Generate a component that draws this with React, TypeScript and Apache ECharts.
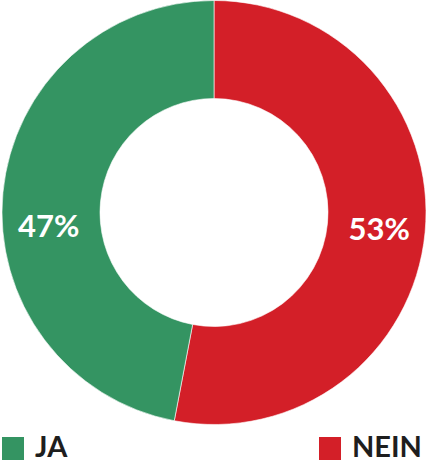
import React, { useEffect, useRef } from "react";
import * as echarts from "echarts";

const categories = ["NEIN", "JA"];
const values = [53, 47];
const colors = ["#d31f28", "#349462"];

export default function App() {
  const ref = useRef<HTMLDivElement>(null);
  useEffect(() => {
    document.body.style.margin = "0";
    const chart = echarts.init(ref.current!, null, { renderer: "svg" });
    const font = "Lato, 'Open Sans', sans-serif";
    const legendItems = [
      { idx: 1, x: 2 },
      { idx: 0, x: 319 },
    ];
    chart.setOption({
      animation: false,
      color: colors,
      graphic: legendItems.flatMap(({ idx, x }) => [
        { type: "rect", shape: { x, y: 437, width: 22, height: 23 }, style: { fill: colors[idx] } },
        {
          type: "text",
          x: x + 33,
          y: 445,
          style: {
            text: categories[idx],
            fill: "#1e1e1e",
            font: `bold 29px ${font}`,
            verticalAlign: "middle",
            align: "left",
          },
        },
      ]),
      series: [
        {
          type: "pie",
          center: [214, 212.5],
          radius: [114, 212],
          startAngle: 90,
          clockwise: true,
          avoidLabelOverlap: false,
          itemStyle: { borderColor: "#fff", borderWidth: 0.6 },
          label: {
            show: true,
            position: "inside",
            formatter: "{c}%",
            color: "#fff",
            fontFamily: font,
            fontSize: 31,
            fontWeight: 700,
          },
          labelLine: { show: false },
          emphasis: { disabled: true },
          data: categories.map((name, i) => ({
            name,
            value: values[i],
            label: i === 1 ? { offset: [0, 28] } : {},
          })),
        },
      ],
    });
    return () => chart.dispose();
  }, []);
  return <div ref={ref} style={{ width: 428, height: 462 }} />;
}
